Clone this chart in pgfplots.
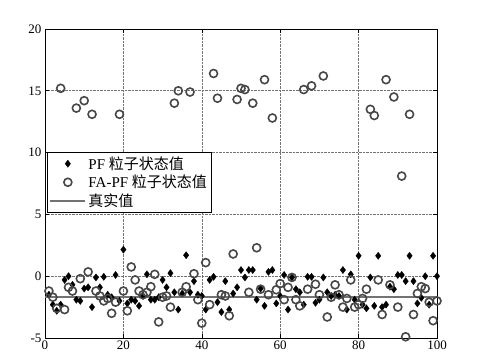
\documentclass[border=0pt]{standalone}
\usepackage{fontspec}
\setmainfont{Liberation Serif}
\newfontfamily\cjk{Noto Sans CJK SC}
\usepackage{pgfplots}
\usepackage{pgfplotstable}
\pgfplotsset{compat=1.18}
\pgfplotstableread{
x y
1 -1.5
2 -2.3
3 -2.8
4 -2.3
5 -0.3
6 0.0
7 -0.7
8 -1.9
9 -2.0
10 -1.0
11 -0.9
12 -2.5
13 -0.1
14 -0.9
15 -0.05
16 -1.5
17 -1.7
18 0.1
19 -2.0
20 2.15
21 -2.2
22 -1.9
23 -2.0
24 -2.4
25 -1.6
26 0.15
27 -1.9
28 -1.9
29 -1.7
30 -0.3
31 -0.9
32 0.25
33 -1.3
34 -2.7
35 -1.4
36 1.7
37 -1.3
38 -0.4
39 -1.5
40 -1.6
41 -2.7
42 -0.3
43 -0.05
44 -2.1
45 -2.9
46 -0.4
47 -2.7
48 -1.4
49 -0.9
50 0.5
51 -0.1
52 0.5
53 0.5
54 -1.9
55 -1.0
56 -2.4
57 0.35
58 0.5
59 -2.2
60 -1.6
61 0.1
62 -2.7
63 -0.1
64 -1.05
65 -1.3
66 -2.3
67 -0.05
68 -0.05
69 -2.15
70 -1.9
71 -0.1
72 -1.3
73 -1.6
74 -1.5
75 -1.6
76 0.5
77 -2.7
78 0.15
79 -1.9
80 1.65
81 -2.3
82 -2.6
83 -0.1
84 -2.4
85 1.65
86 -2.5
87 -2.3
88 -0.85
89 -1.05
90 0.1
91 0.1
92 -0.4
93 1.65
94 -0.4
95 -2.2
96 -1.75
97 0.0
98 -2.3
99 1.65
100 0.0
}\pfdata
\pgfplotstableread{
x y
1 -1.2
2 -1.7
3 -2.6
4 15.2
5 -2.7
6 -0.9
7 -1.2
8 13.6
9 -0.2
10 14.2
11 0.35
12 13.1
13 -1.2
14 -1.6
15 -2.0
16 -1.8
17 -3.0
18 -2.1
19 13.1
20 -1.2
21 -2.8
22 0.75
23 -0.3
24 -1.2
25 -1.5
26 -1.3
27 -0.85
28 0.15
29 -3.7
30 -1.7
31 -1.6
32 -2.5
33 14.0
34 15.0
35 -1.3
36 -0.85
37 14.9
38 0.2
39 -1.9
40 -3.8
41 1.1
42 -2.3
43 16.4
44 14.4
45 -1.5
46 -1.6
47 -3.2
48 1.8
49 14.3
50 15.2
51 15.1
52 -1.3
53 14.0
54 2.3
55 -1.05
56 15.9
57 -1.5
58 12.8
59 -1.1
60 -0.6
61 -1.9
62 -0.9
63 -0.1
64 -1.9
65 -2.4
66 15.1
67 -1.05
68 15.4
69 -0.65
70 -1.5
71 16.2
72 -3.3
73 -1.7
74 -0.7
75 -1.5
76 -2.5
77 -1.8
78 -0.3
79 -2.5
80 -2.3
81 -1.8
82 -1.05
83 13.5
84 13.0
85 -0.3
86 -3.1
87 15.9
88 -0.7
89 14.5
90 -2.5
91 8.1
92 -4.9
93 13.1
94 -3.1
95 -1.4
96 -0.85
97 -1.0
98 -2.1
99 -3.6
100 -2.0
}\fadata
\begin{document}
\begin{tikzpicture}
\path[use as bounding box] (-45pt,-21pt) rectangle (445pt,338pt);
\begin{axis}[
  at={(0pt,0pt)}, anchor=south west,
  scale only axis, width=392pt, height=309pt,
  xmin=0, xmax=100, ymin=-5, ymax=20,
  xtick={0,20,...,100}, ytick={-5,0,...,20},
  tick align=inside, major tick length=4pt,
  grid=major,
  major grid style={densely dotted, line width=0.6pt, black!55},
  axis line style={line width=0.9pt},
  every tick/.style={black, line width=0.6pt},
  tick label style={font=\fontsize{13}{15}\selectfont},
  /pgf/number format/assume math mode=true,
  xticklabel style={yshift=1pt},
  legend image code/.code={\draw[mark repeat=2,mark phase=2,#1] plot coordinates {(0cm,0cm)(0.62cm,0cm)(1.24cm,0cm)};},
  legend style={at={(0.005,0.602)}, anchor=north west, draw=black, line width=0.9pt,
    font=\fontsize{15}{17}\selectfont, row sep=0pt, inner sep=2pt,
    nodes={inner sep=2.2pt}},
  legend cell align=left,
]
\addplot[only marks, mark=diamond*, mark size=3.6pt, black, mark options={fill=black, line width=0.3pt}] table[x=x,y=y] {\pfdata};
\addlegendentry{PF {\cjk 粒子状态值}}
\addplot[only marks, mark=o, mark size=4pt, draw=black!72, mark options={line width=1.6pt}] table[x=x,y=y] {\fadata};
\addlegendentry{FA-PF {\cjk 粒子状态值}}
\addplot[black!55, line width=1.6pt] coordinates {(0,-1.7) (100,-1.7)};
\addlegendentry{{\cjk 真实值}}
\end{axis}
\end{tikzpicture}
\end{document}
